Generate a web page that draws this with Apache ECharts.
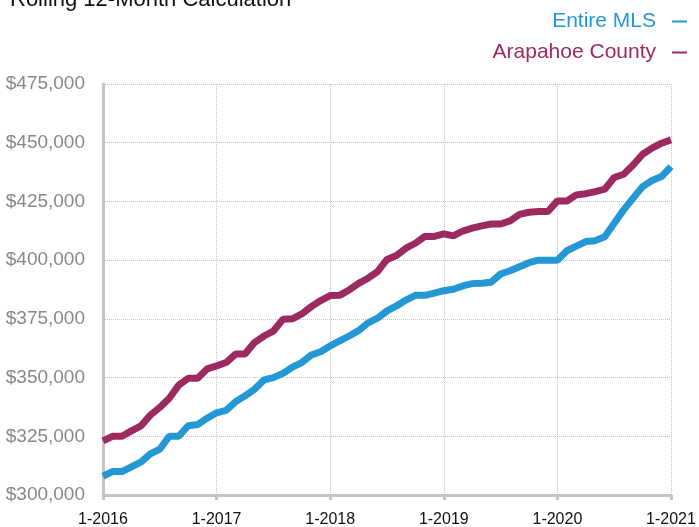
<!DOCTYPE html>
<html>
<head>
<meta charset="utf-8">
<script src="https://cdn.jsdelivr.net/npm/echarts@6/dist/echarts.min.js"></script>
<style>
html,body{margin:0;padding:0;background:#fff;}
#chart{width:699px;height:527px;}
</style>
</head>
<body>
<div id="chart"></div>
<script>
// Year tick labels (January of each year)
var yearLabels = ['1-2016', '1-2017', '1-2018', '1-2019', '1-2020', '1-2021'];
var monthsPerYear = 12;

// Rolling 12-month median price, monthly from 1-2016 to 1-2021
var entireMLS = [
  308000, 310000, 310000, 312000, 314000, 317500, 319500, 325000, 325000, 329500, 330000, 332700,
  335000, 336000, 339700, 342200, 345000, 349000, 350000, 351800, 354400, 356400, 359600, 361000,
  363500, 365600, 367700, 370000, 373300, 375300, 378400, 380500, 383000, 385000, 385000, 386000,
  387000, 387600, 389000, 390000, 390200, 390600, 394100, 395500, 397200, 398900, 400000, 400000,
  400000, 404000, 406000, 407900, 408300, 410000, 415700, 421400, 426400, 431300, 433900, 435600,
  439800
];
var arapahoeCounty = [
  323000, 325000, 325000, 327300, 329400, 334000, 337300, 341200, 346800, 349700, 349700, 353700,
  355000, 356400, 360000, 360000, 364900, 367700, 369800, 374800, 375000, 377100, 380200, 382800,
  384900, 385000, 387300, 390100, 392300, 395100, 400300, 402000, 405100, 407200, 410100, 410100,
  411200, 410300, 412400, 413600, 414600, 415400, 415400, 416700, 419500, 420400, 420700, 420700,
  425200, 425200, 427800, 428300, 429200, 430200, 435200, 436600, 440500, 445100, 447700, 449800,
  451200
];

var categories = [];
for (var i = 0; i < entireMLS.length; i++) {
  var m = (i % monthsPerYear) + 1;
  var y = yearLabels[Math.floor(i / monthsPerYear)].split('-')[1];
  categories.push(m + '-' + y);
}

var blue = '#2398D5';
var purple = '#9C2A61';
var font = '"Liberation Sans", Arial, Helvetica, sans-serif';

var chart = echarts.init(document.getElementById('chart'));
chart.setOption({
  animation: false,
  backgroundColor: '#fff',
  title: {
    text: 'Rolling 12-Month Calculation',
    left: 10,
    top: -11,
    padding: 0,
    textStyle: {color: '#111', fontSize: 22, fontWeight: 'normal', fontFamily: font}
  },
  legend: {
    orient: 'vertical',
    right: 12,
    top: 11,
    align: 'right',
    itemGap: 10,
    itemWidth: 15,
    itemHeight: 2,
    icon: 'rect',
    padding: 0,
    textStyle: {fontSize: 21, fontFamily: font, padding: [0, 11, 0, 0]},
    data: [
      {name: 'Entire MLS', textStyle: {color: blue}},
      {name: 'Arapahoe County', textStyle: {color: purple}}
    ]
  },
  grid: {left: 103, right: 28, top: 84, bottom: 32, containLabel: false, outerBoundsMode: 'none'},
  xAxis: {
    type: 'category',
    data: categories,
    boundaryGap: false,
    axisLine: {show: true, lineStyle: {color: '#c4c4c4', width: 3}},
    axisTick: {show: true, interval: 11, length: 5, lineStyle: {color: '#c4c4c4', width: 3}},
    axisLabel: {
      interval: 11,
      color: '#111',
      fontSize: 16,
      fontFamily: font,
      margin: 17,
      formatter: function (v) { return v; }
    },
    splitLine: {show: true, interval: 11, lineStyle: {color: '#c4c4c4', type: 'dotted', width: 1}}
  },
  yAxis: {
    type: 'value',
    min: 300000,
    max: 475000,
    interval: 25000,
    axisLine: {show: true, lineStyle: {color: '#c4c4c4', width: 3}},
    axisTick: {show: false},
    axisLabel: {
      color: '#888',
      fontSize: 19,
      fontFamily: font,
      margin: 18,
      formatter: function (v) { return '$' + v.toLocaleString('en-US'); }
    },
    splitLine: {show: true, lineStyle: {color: '#c4c4c4', type: 'dotted', width: 1}}
  },
  series: [
    {
      name: 'Entire MLS',
      type: 'line',
      data: entireMLS,
      showSymbol: false,
      symbol: 'none',
      color: blue,
      lineStyle: {color: blue, width: 7}
    },
    {
      name: 'Arapahoe County',
      type: 'line',
      data: arapahoeCounty,
      showSymbol: false,
      symbol: 'none',
      color: purple,
      lineStyle: {color: purple, width: 7}
    }
  ]
});
</script>
</body>
</html>
